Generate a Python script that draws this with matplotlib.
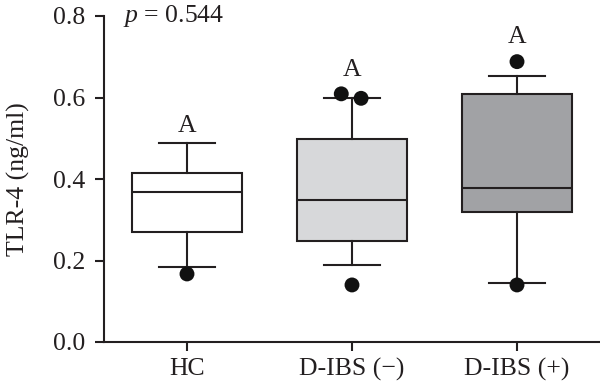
import matplotlib
matplotlib.use("Agg")
import matplotlib.pyplot as plt

categories = ["HC", "D-IBS (\u2212)", "D-IBS (+)"]
whisker_low = [0.185, 0.188, 0.144]
q1 = [0.269, 0.249, 0.319]
median = [0.369, 0.348, 0.379]
q3 = [0.414, 0.497, 0.609]
whisker_high = [0.489, 0.598, 0.653]
outliers = [[0.167], [0.140, 0.609, 0.598], [0.140, 0.688]]
outlier_dx = [[0.0], [0.0, -0.065, 0.055], [0.0, 0.0]]
letters = ["A", "A", "A"]
letter_y = [0.515, 0.653, 0.733]
box_colors = ["#ffffff", "#d7d8da", "#a1a2a5"]
yticks = [0.0, 0.2, 0.4, 0.6, 0.8]

plt.rcParams['font.family'] = ['Liberation Serif', 'DejaVu Serif']
plt.rcParams['mathtext.fontset'] = 'custom'
plt.rcParams['mathtext.it'] = 'Liberation Serif:italic'
plt.rcParams['mathtext.rm'] = 'Liberation Serif'

FS = 18.5
ink = "#231f20"

fig = plt.figure(figsize=(6.0, 3.92), dpi=100)
ax = fig.add_axes([104/600, 1 - 342/392, 1 - 104/600, 326/392])

stats = []
for i in range(len(categories)):
    stats.append(dict(med=median[i], q1=q1[i], q3=q3[i],
                      whislo=whisker_low[i], whishi=whisker_high[i],
                      fliers=[], label=categories[i]))

lw = 1.5
bp = ax.bxp(stats, positions=range(len(categories)), widths=0.667,
            patch_artist=True, showfliers=False,
            boxprops=dict(linewidth=lw, edgecolor=ink),
            medianprops=dict(color=ink, linewidth=lw),
            whiskerprops=dict(color=ink, linewidth=lw),
            capprops=dict(color=ink, linewidth=lw),
            capwidths=0.34)
for patch, c in zip(bp['boxes'], box_colors):
    patch.set_facecolor(c)

for i, (vals, dxs) in enumerate(zip(outliers, outlier_dx)):
    ax.scatter([i + d for d in dxs], vals, s=115, color="#111111", zorder=5,
               edgecolors="none", clip_on=False)

for i, (t, y) in enumerate(zip(letters, letter_y)):
    ax.text(i, y, t, ha="center", va="baseline", fontsize=FS, color=ink)

ax.text(-0.39, 0.8, r"$p$ = 0.544", ha="left", va="center", fontsize=FS,
        color=ink)

ax.set_xlim(-0.503, 2.503)
ax.set_ylim(0, 0.8)
ax.set_yticks(yticks)
ax.set_yticklabels([f"{v:.1f}" for v in yticks])
ax.set_xticks(range(len(categories)))
ax.set_xticklabels(categories)
ax.set_ylabel("TLR-4 (ng/ml)", fontsize=FS, color=ink)
ax.yaxis.set_label_coords(-0.149, 0.5)

for s in ["top", "right"]:
    ax.spines[s].set_visible(False)
for s in ["left", "bottom"]:
    ax.spines[s].set_linewidth(lw)
    ax.spines[s].set_color(ink)
ax.tick_params(axis="both", direction="out", length=6.8, width=lw,
               colors=ink, labelsize=FS)
ax.tick_params(axis="y", pad=7)
ax.tick_params(axis="x", pad=5)

fig.savefig("out.png", dpi=100)
